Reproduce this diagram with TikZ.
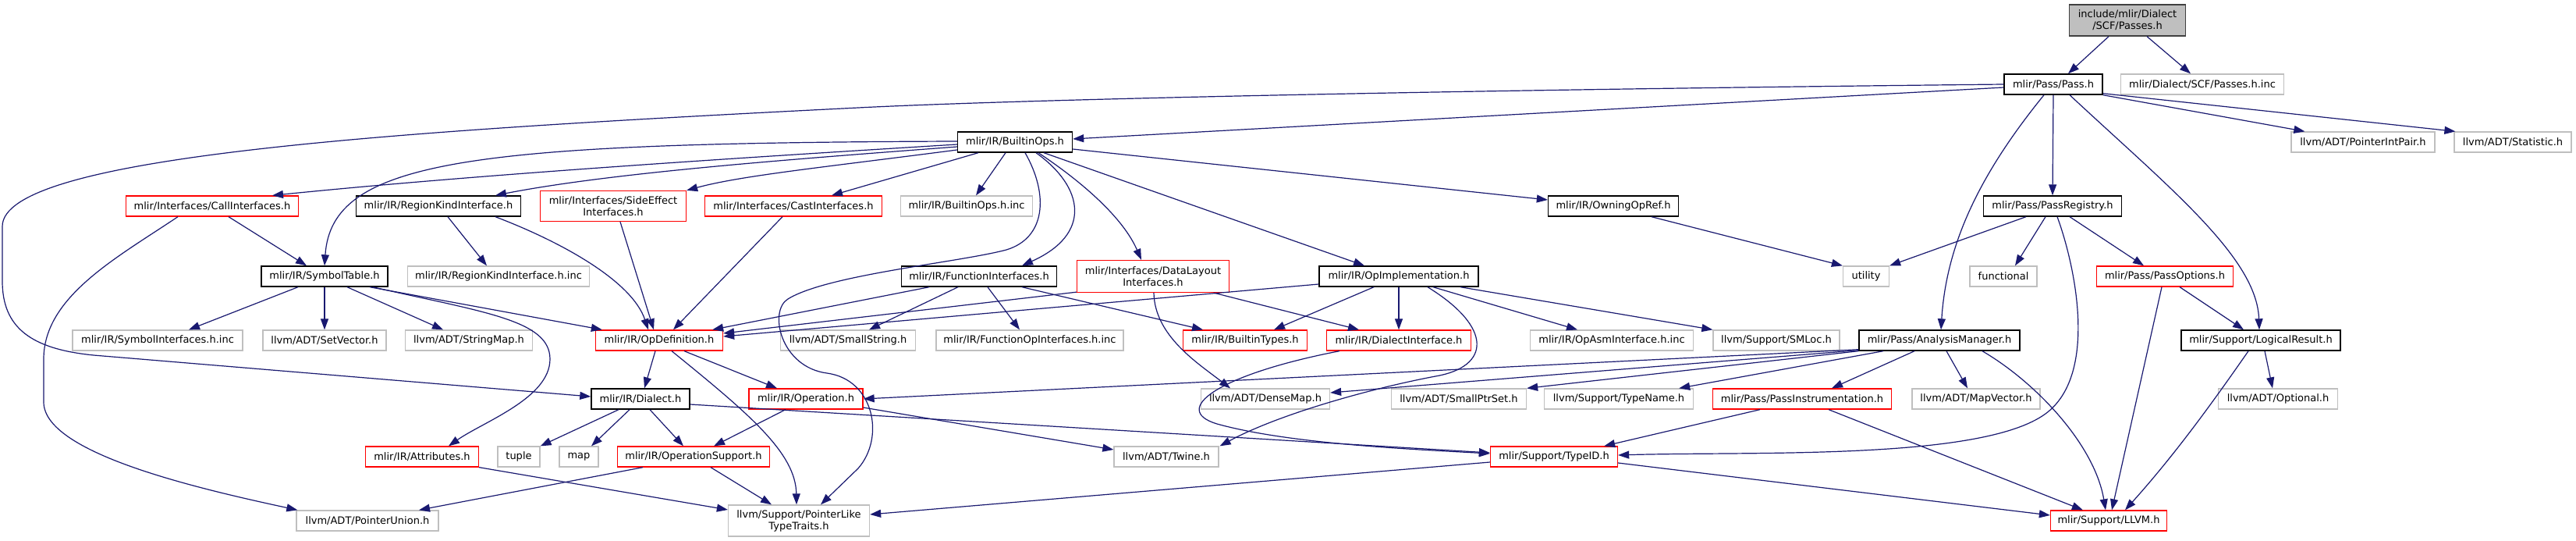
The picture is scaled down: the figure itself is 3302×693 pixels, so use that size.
\documentclass[tikz,border=0pt]{standalone}
\usepackage{fontspec}
\setmainfont{DejaVu Sans}
\usetikzlibrary{arrows.meta}
\definecolor{edgec}{HTML}{191970}
\definecolor{grayb}{HTML}{BFBFBF}
\begin{document}
\begin{tikzpicture}[x=1pt,y=-1pt,
 nd/.style={rectangle, inner sep=0pt, align=center, fill=white, minimum height=26pt, font=\fontsize{13}{15}\selectfont},
 nb/.style={nd, draw=black, line width=1.4pt},
 nr/.style={nd, draw=red, line width=1.3pt},
 ng/.style={nd, draw=grayb, line width=1.3pt},
 ntop/.style={nd, draw=black!75, fill=grayb, line width=1.4pt},
 e/.style={draw=edgec, line width=1.2pt, -{Triangle[length=14pt,width=10pt]}},
]
\useasboundingbox[fill=white] (0,0) rectangle (3302,693);
% nodes
\node[ntop, minimum width=149pt, minimum height=40pt] (top) at (2727,26) {include/mlir/Dialect\\/SCF/Passes.h};
\node[nb, minimum width=126pt] (pass) at (2632,108) {mlir/Pass/Pass.h};
\node[ng, minimum width=209pt] (pinc) at (2823,108) {mlir/Dialect/SCF/Passes.h.inc};
\node[nb, minimum width=147pt] (bops) at (1301,182) {mlir/IR/BuiltinOps.h};
\node[ng, minimum width=184pt] (pip) at (3029,182) {llvm/ADT/PointerIntPair.h};
\node[ng, minimum width=150pt] (stat) at (3221,182) {llvm/ADT/Statistic.h};
\node[nr, minimum width=221pt] (call) at (272,264) {mlir/Interfaces/CallInterfaces.h};
\node[nb, minimum width=211pt] (rki) at (562,264) {mlir/IR/RegionKindInterface.h};
\node[nr, minimum width=187pt, minimum height=39pt] (side) at (786,264) {mlir/Interfaces/SideEffect\\Interfaces.h};
\node[nr, minimum width=227pt] (cast) at (1017,264) {mlir/Interfaces/CastInterfaces.h};
\node[ng, minimum width=169pt] (binc) at (1239,264) {mlir/IR/BuiltinOps.h.inc};
\node[nb, minimum width=167pt] (owning) at (2068,264) {mlir/IR/OwningOpRef.h};
\node[nb, minimum width=177pt] (preg) at (2631,264) {mlir/Pass/PassRegistry.h};
\node[nb, minimum width=162pt] (symt) at (416,354) {mlir/IR/SymbolTable.h};
\node[ng, minimum width=233pt] (rkinc) at (639,354) {mlir/IR/RegionKindInterface.h.inc};
\node[nb, minimum width=199pt] (funci) at (1255,354) {mlir/IR/FunctionInterfaces.h};
\node[nr, minimum width=195pt, minimum height=41pt] (dlay) at (1478,354) {mlir/Interfaces/DataLayout\\Interfaces.h};
\node[nb, minimum width=204pt] (opimpl) at (1793,354) {mlir/IR/OpImplementation.h};
\node[ng, minimum width=59pt] (util) at (2392,354) {utility};
\node[ng, minimum width=86pt] (func) at (2568,354) {functional};
\node[nr, minimum width=175pt] (popt) at (2775,354) {mlir/Pass/PassOptions.h};
\node[ng, minimum width=218pt] (syminc) at (202,436) {mlir/IR/SymbolInterfaces.h.inc};
\node[ng, minimum width=158pt] (setv) at (416,436) {llvm/ADT/SetVector.h};
\node[ng, minimum width=163pt] (strmap) at (601,436) {llvm/ADT/StringMap.h};
\node[nr, minimum width=163pt] (opdef) at (845,436) {mlir/IR/OpDefinition.h};
\node[ng, minimum width=173pt] (sstr) at (1087,436) {llvm/ADT/SmallString.h};
\node[ng, minimum width=240pt] (fopinc) at (1320,436) {mlir/IR/FunctionOpInterfaces.h.inc};
\node[nr, minimum width=159pt] (btypes) at (1596,436) {mlir/IR/BuiltinTypes.h};
\node[nr, minimum width=185pt] (dint) at (1793,436) {mlir/IR/DialectInterface.h};
\node[ng, minimum width=209pt] (asminc) at (2066,436) {mlir/IR/OpAsmInterface.h.inc};
\node[ng, minimum width=162pt] (smloc) at (2277,436) {llvm/Support/SMLoc.h};
\node[nb, minimum width=206pt] (am) at (2486,436) {mlir/Pass/AnalysisManager.h};
\node[nb, minimum width=204pt] (lres) at (2898,436) {mlir/Support/LogicalResult.h};
\node[nb, minimum width=126pt] (dialect) at (821,511) {mlir/IR/Dialect.h};
\node[nr, minimum width=146pt] (oper) at (1033,511) {mlir/IR/Operation.h};
\node[ng, minimum width=165pt] (dmap) at (1622,511) {llvm/ADT/DenseMap.h};
\node[ng, minimum width=173pt] (sptr) at (1870,511) {llvm/ADT/SmallPtrSet.h};
\node[ng, minimum width=191pt] (tname) at (2075,511) {llvm/Support/TypeName.h};
\node[nr, minimum width=229pt] (pinst) at (2310,511) {mlir/Pass/PassInstrumentation.h};
\node[ng, minimum width=164pt] (mapv) at (2533,511) {llvm/ADT/MapVector.h};
\node[ng, minimum width=153pt] (opt) at (2920,511) {llvm/ADT/Optional.h};
\node[nr, minimum width=145pt] (attr) at (541,585) {mlir/IR/Attributes.h};
\node[ng, minimum width=54pt] (tuple) at (665,585) {tuple};
\node[ng, minimum width=50pt] (map) at (742,585) {map};
\node[nr, minimum width=195pt] (opsup) at (889,585) {mlir/IR/OperationSupport.h};
\node[ng, minimum width=134pt] (twine) at (1495,585) {llvm/ADT/Twine.h};
\node[nr, minimum width=163pt] (typeid) at (1992,585) {mlir/Support/TypeID.h};
\node[ng, minimum width=182pt] (punion) at (471,667) {llvm/ADT/PointerUnion.h};
\node[ng, minimum width=181pt, minimum height=40pt] (plt) at (1024,667) {llvm/Support/PointerLike\\TypeTraits.h};
\node[nr, minimum width=149pt] (llvm) at (2703,667) {mlir/Support/LLVM.h};
% edges: top
\draw[e] ([xshift=-24pt]top.south) -- ([xshift=19pt]pass.north);
\draw[e] ([xshift=25pt]top.south) -- ([xshift=-15pt]pinc.north);
% Pass.h
\draw[e] ([yshift=-4pt]pass.west) -- ([yshift=4pt]bops.east);
\draw[e] (pass.west) .. controls (1800,116) and (1300,128) .. (1100,138) .. controls (500,168) and (3,200) .. (3,290) -- (3,360) .. controls (3,420) and (40,447) .. (120,455) -- ([yshift=3pt]dialect.west);
\draw[e] (pass.south) -- (preg.north);
\draw[e] (pass.south east) -- ([xshift=18pt]pip.north west);
\draw[e] ([yshift=2pt]pass.south east) -- ([xshift=2pt]stat.north west);
\draw[e] ([xshift=-12pt]pass.south) .. controls (2540,220) and (2495,310) .. ([xshift=2pt]am.north);
\draw[e] ([xshift=21pt]pass.south) .. controls (2780,240) and (2893,330) .. ([xshift=-2pt]lres.north);
% PassRegistry
\draw[e] ([xshift=-34pt]preg.south) -- (util.north east);
\draw[e] ([xshift=-9pt]preg.south) -- ([xshift=15pt]func.north);
\draw[e] ([xshift=22pt]preg.south) -- ([xshift=-27pt]popt.north);
\draw[e] ([xshift=6pt]preg.south) .. controls (2660,340) and (2690,480) .. (2622,530) .. controls (2540,590) and (2250,578) .. ([yshift=2pt]typeid.east);
\draw[e] ([xshift=49pt]owning.south) -- (util.north west);
% PassOptions, LogicalResult
\draw[e] ([xshift=-4pt]popt.south) -- ([xshift=4pt]llvm.north);
\draw[e] ([xshift=19pt]popt.south) -- ([xshift=-22pt]lres.north);
\draw[e] ([xshift=5pt]lres.south) -- ([xshift=-7pt]opt.north);
\draw[e] ([xshift=-16pt]lres.south) .. controls (2840,510) and (2790,580) .. ([xshift=21pt]llvm.north);
% AnalysisManager
\draw[e] ([xshift=-32pt]am.south) -- ([xshift=38pt]pinst.north);
\draw[e] ([xshift=9pt]am.south) -- ([xshift=-11pt]mapv.north);
\draw[e] ([xshift=55pt]am.south) .. controls (2610,490) and (2685,570) .. ([xshift=-4pt]llvm.north);
\draw[e] ([yshift=2pt]am.south west) -- (oper.east);
\draw[e] ([yshift=1pt]am.south west) -- ([yshift=8pt]dmap.east);
\draw[e] (am.south west) -- (sptr.north east);
\draw[e] ([xshift=-72pt]am.south) -- ([xshift=-19pt]tname.north east);
% PassInstrumentation, TypeID
\draw[e] ([xshift=-54pt]pinst.south) -- ([xshift=-18pt]typeid.north east);
\draw[e] ([xshift=34pt]pinst.south) -- ([xshift=42pt]llvm.north west);
\draw[e] ([yshift=-8pt]typeid.east) -- ([yshift=7pt]llvm.west);
\draw[e] ([yshift=-7pt]typeid.west) -- ([yshift=8pt]plt.east);
% OpImplementation
\draw[e] ([yshift=-10pt]opimpl.west) -- ([yshift=5pt]opdef.east);
\draw[e] ([xshift=-32pt]opimpl.south) -- ([xshift=37pt]btypes.north);
\draw[e] (opimpl.south) -- (dint.north);
\draw[e] ([xshift=37pt]opimpl.south) .. controls (1915,420) and (1910,470) .. (1840,482) .. controls (1760,497) and (1640,530) .. ([xshift=1pt]twine.north east);
\draw[e] ([xshift=44pt]opimpl.south) -- ([xshift=-44pt]asminc.north);
\draw[e] ([xshift=79pt]opimpl.south) -- (smloc.north west);
% DataLayout
\draw[e] ([yshift=1pt]dlay.south west) -- ([yshift=9pt]opdef.east);
\draw[e] ([xshift=1pt]dlay.south) .. controls (1480,430) and (1535,465) .. ([xshift=-45pt]dmap.north);
\draw[e] ([xshift=78pt]dlay.south) -- ([xshift=-51pt]dint.north);
% FunctionInterfaces
\draw[e] ([xshift=-64pt]funci.south) -- ([xshift=-14pt]opdef.north east);
\draw[e] ([xshift=-27pt]funci.south) -- ([xshift=27pt]sstr.north);
\draw[e] ([xshift=11pt]funci.south) -- ([xshift=-13pt]fopinc.north);
\draw[e] ([xshift=55pt]funci.south) -- ([xshift=-54pt]btypes.north);
% BuiltinOps
\draw[e] ([yshift=1pt]bops.west) .. controls (600,183) and (425,205) .. (symt.north);
\draw[e] ([yshift=-3pt]bops.west) .. controls (900,205) and (600,225) .. ([xshift=77pt]call.north);
\draw[e] ([yshift=-6pt]bops.west) .. controls (1000,205) and (780,222) .. ([xshift=73pt]rki.north);
\draw[e] ([yshift=-10pt]bops.west) .. controls (1050,215) and (950,225) .. (side.north east);
\draw[e] ([xshift=-47pt]bops.south) -- ([xshift=49pt]cast.north);
\draw[e] ([xshift=-12pt]bops.south) -- ([xshift=12pt]binc.north);
\draw[e] ([xshift=13pt]bops.south) .. controls (1345,250) and (1340,305) .. (1290,320) .. controls (1230,336) and (1060,352) .. (1010,383) .. controls (985,398) and (1000,470) .. (1060,478) .. controls (1120,486) and (1135,560) .. (1100,600) -- ([xshift=28pt]plt.north);
\draw[e] ([xshift=27pt]bops.south) .. controls (1390,240) and (1400,300) .. ([xshift=55pt]funci.north);
\draw[e] ([xshift=30pt]bops.south) .. controls (1390,235) and (1440,280) .. ([xshift=-15pt]dlay.north);
\draw[e] ([xshift=37pt]bops.south) -- ([xshift=-44pt]opimpl.north);
\draw[e] ([yshift=-9pt]bops.east) -- ([yshift=8pt]owning.west);
% CallInterfaces
\draw[e] ([xshift=21pt]call.south) -- ([xshift=-23pt]symt.north);
\draw[e] ([xshift=-44pt]call.south) .. controls (150,330) and (56,380) .. (56,460) -- (56,515) .. controls (56,580) and (250,625) .. ([xshift=2pt]punion.north west);
% RegionKind, SideEffect, Cast
\draw[e] ([xshift=12pt]rki.south) -- ([xshift=-15pt]rkinc.north);
\draw[e] ([xshift=73pt]rki.south) .. controls (720,310) and (810,360) .. ([xshift=-14pt]opdef.north);
\draw[e] ([xshift=9pt]side.south) -- ([xshift=-7pt]opdef.north);
\draw[e] ([xshift=-14pt]cast.south) -- ([xshift=18pt]opdef.north);
% SymbolTable
\draw[e] ([xshift=-34pt]symt.south) -- ([xshift=40pt]syminc.north);
\draw[e] (symt.south) -- (setv.north);
\draw[e] ([xshift=29pt]symt.south) -- ([xshift=-33pt]strmap.north);
\draw[e] ([xshift=58pt]symt.south) -- ([xshift=9pt]opdef.north west);
\draw[e] ([xshift=62pt]symt.south) .. controls (620,400) and (705,410) .. (705,460) .. controls (705,510) and (620,540) .. ([xshift=34pt]attr.north);
% OpDefinition
\draw[e] ([xshift=-5pt]opdef.south) -- ([xshift=5pt]dialect.north);
\draw[e] ([xshift=32pt]opdef.south) -- ([xshift=-37pt]oper.north);
\draw[e] ([xshift=16pt]opdef.south) .. controls (960,530) and (1020,580) .. ([xshift=-3pt]plt.north);
% Dialect
\draw[e] ([xshift=-28pt]dialect.south) -- (tuple.north east);
\draw[e] ([xshift=-14pt]dialect.south) -- ([xshift=16pt]map.north);
\draw[e] ([xshift=12pt]dialect.south) -- ([xshift=-13pt]opsup.north);
\draw[e] ([yshift=-7pt]dialect.east) -- ([yshift=5pt]typeid.west);
% Operation
\draw[e] ([xshift=-26pt]oper.south) -- ([xshift=26pt]opsup.north);
\draw[e] ([yshift=-11pt]oper.east) -- ([yshift=9pt]twine.west);
% Attributes, OperationSupport
\draw[e] (attr.south east) -- ([yshift=14pt]plt.west);
\draw[e] ([xshift=-65pt]opsup.south) -- ([xshift=66pt]punion.north);
\draw[e] ([xshift=22pt]opsup.south) -- ([xshift=-35pt]plt.north);
% DialectInterface
\draw[e] ([xshift=-76pt]dint.south) .. controls (1560,480) and (1500,525) .. (1560,543) .. controls (1650,568) and (1800,575) .. ([yshift=4pt]typeid.west);
\end{tikzpicture}
\end{document}
